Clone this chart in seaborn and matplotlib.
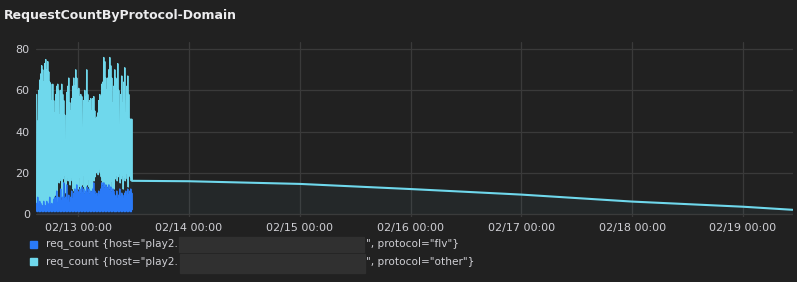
import numpy as np
import pandas as pd
import matplotlib
matplotlib.use("Agg")
import matplotlib.pyplot as plt
import matplotlib.dates as mdates
from matplotlib.patches import Rectangle
import seaborn as sns

# ---------------- data ----------------
# dense period: each pixel column holds a peak sample followed by a dip sample
dense_start = "2024-02-12 15:03"
dense_step = "390s"

flv_peak = [5, 8, 4, 6, 5, 4, 3, 6, 4, 3, 6, 5, 3, 8, 4, 5, 3, 7, 8,
            4, 11, 5, 8, 4, 12, 6, 8, 15, 7, 8, 14, 6, 9, 5, 8, 11, 7,
            10, 12, 9, 14, 11, 10, 12, 9, 13, 10, 12, 9, 11, 13, 10, 12, 9, 11, 10, 12, 15, 11, 9,
            10, 8, 11, 9, 12, 15, 13, 15, 12, 14, 13, 12, 14, 11, 13, 10, 12, 11,
            9, 8, 11, 7, 9, 12, 8, 10, 9, 7, 10, 11, 8, 12, 9, 11, 12, 10]
flv_dip = [1, 2, 1, 1, 2, 1, 1, 2, 1, 1, 2, 1, 1, 2, 1, 1, 2, 1, 1,
           2, 1, 1, 2, 1, 1, 2, 1, 1, 2, 1, 1, 2, 1, 1, 2, 1, 1,
           2, 1, 1, 2, 1, 1, 2, 1, 1, 2, 1, 1, 2, 1, 1, 2, 1, 1, 2, 1, 1, 2, 1,
           1, 2, 1, 1, 2, 1, 1, 2, 1, 1, 2, 1, 1, 2, 1, 1, 2, 1,
           1, 1, 2, 1, 1, 2, 1, 1, 2, 1, 1, 2, 1, 1, 2, 1, 1, 2]
other_peak = [53, 37, 56, 59, 63, 68, 67, 58, 69, 72, 64, 69, 66, 56, 59, 50, 60, 48, 41,
              54, 51, 58, 52, 44, 48, 57, 50, 40, 41, 23, 45, 56, 57, 49, 42, 45, 55,
              56, 50, 61, 52, 49, 51, 45, 49, 44, 26, 43, 51, 46, 57, 48, 42, 46, 45, 40, 44, 42, 39, 37,
              37, 41, 44, 49, 45, 48, 51, 61, 62, 52, 47, 54, 56, 65, 59, 56, 42, 51,
              61, 58, 54, 66, 51, 30, 50, 57, 45, 57, 61, 38, 54, 55, 49, 35, 34, 36]
other_dip = [3, 1, 4, 3, 1, 4, 3, 1, 5, 3, 1, 4, 3, 1, 7, 4, 2, 5, 8,
             12, 5, 16, 13, 17, 15, 6, 16, 18, 13, 9, 17, 14, 16, 13, 16, 15, 11,
             9, 12, 9, 13, 11, 17, 11, 9, 13, 17, 12, 9, 10, 13, 16, 11, 9, 11, 9, 15, 15, 16, 19,
             20, 17, 21, 19, 16, 15, 13, 14, 12, 14, 12, 12, 14, 10, 15, 10, 11, 11,
             16, 18, 14, 17, 19, 13, 16, 18, 10, 17, 15, 18, 16, 12, 17, 17, 15, 14]

# sparse tail of the "other" series
tail_times = ["2024-02-13 11:50", "2024-02-14 00:00", "2024-02-15 00:00",
              "2024-02-16 00:00", "2024-02-17 00:00", "2024-02-18 00:00",
              "2024-02-19 00:00", "2024-02-19 10:43"]
tail_other = [16.0, 15.8, 14.5, 12.0, 9.3, 5.9, 3.4, 1.9]

y_ticks = [0, 20, 40, 60, 80]
x_range = ["2024-02-12 14:54", "2024-02-19 10:43"]

title = "RequestCountByProtocol-Domain"
legend_prefix = 'req_count {host="play2.'
legend_suffix = ['", protocol="flv"}', '", protocol="other"}']

# ---------------- colours ----------------
BG = "#212121"
GRID = "#3a3a3a"
TXT = "#cfcfd4"
BLUE = "#2a7af8"
CYAN = "#6fd8ec"

# ---------------- assemble ----------------
flv = np.column_stack([flv_peak, flv_dip]).ravel().astype(float)
other = np.column_stack([other_peak, other_dip]).ravel().astype(float)
dense_t = pd.date_range(dense_start, periods=len(flv), freq=dense_step)
top = flv + other
tail_t = dense_t[-1:].append(pd.DatetimeIndex(pd.to_datetime(tail_times)))

dense_df = pd.DataFrame({"time": dense_t, "flv": flv, "top": top})
tail_df = pd.DataFrame({"time": tail_t,
                        "top": [top[-1]] + list(tail_other)})

sns.set_theme(style="dark")
plt.rcParams["font.family"] = ["DejaVu Sans"]

W, H = 797, 282
fig = plt.figure(figsize=(W / 100, H / 100), dpi=100, facecolor=BG)
ax = fig.add_axes([36 / W, 1 - 216.5 / H, (792.5 - 36) / W, (216.5 - 41.7) / H])
ax.set_facecolor(BG)

# lines
sns.lineplot(data=dense_df, x="time", y="top", ax=ax, color=CYAN, linewidth=1.0, zorder=3)
sns.lineplot(data=tail_df, x="time", y="top", ax=ax, color=CYAN, linewidth=1.5, zorder=3)
sns.lineplot(data=dense_df, x="time", y="flv", ax=ax, color=BLUE, linewidth=1.0, zorder=4)

# fills
ax.fill_between(dense_df["time"].to_numpy(), 0, dense_df["flv"].to_numpy(),
                color=BLUE, alpha=0.10, lw=0, zorder=1)
ax.fill_between(dense_df["time"].to_numpy(), dense_df["flv"].to_numpy(), dense_df["top"].to_numpy(),
                color=CYAN, alpha=0.06, lw=0, zorder=1)
ax.fill_between(tail_df["time"].to_numpy(), 0, tail_df["top"].to_numpy(),
                color=CYAN, alpha=0.045, lw=0, zorder=1)

ax.set_xlim(pd.Timestamp(x_range[0]), pd.Timestamp(x_range[1]))
ax.set_ylim(-1.36, 83.7)
ax.set_yticks(y_ticks)
ax.xaxis.set_major_locator(mdates.DayLocator())
ax.xaxis.set_major_formatter(mdates.DateFormatter("%m/%d %H:%M"))
ax.set_xlabel("")
ax.set_ylabel("")
ax.grid(True, color=GRID, linewidth=0.9)
ax.set_axisbelow(True)
for s in ax.spines.values():
    s.set_visible(False)
ax.tick_params(axis="both", length=0, colors=TXT, labelsize=8)
ax.tick_params(axis="y", pad=4.5)
ax.tick_params(axis="x", pad=5)
if ax.get_legend():
    ax.get_legend().remove()

# title
fig.text(4 / W, 1 - 15.5 / H, title, color="#ececee", fontsize=9.0,
         fontweight="bold", ha="left", va="center")

# legend (manual)
rows = [244.0, 261.7]
colors = [BLUE, CYAN]
boxes = [(179, 236.7, 364, 252.3), (180, 254.3, 365, 273.3)]
for yc, col, suf, (bx0, by0, bx1, by1) in zip(rows, colors, legend_suffix, boxes):
    fig.patches.append(Rectangle((30 / W, 1 - (yc + 3.5) / H), 7 / W, 7 / H,
                                 transform=fig.transFigure, color=col, zorder=2))
    fig.text(46 / W, 1 - yc / H, legend_prefix, color=TXT, fontsize=7.6,
             ha="left", va="center")
    fig.patches.append(Rectangle((bx0 / W, 1 - by1 / H), (bx1 - bx0) / W, (by1 - by0) / H,
                                 transform=fig.transFigure, color="#303030", zorder=3))
    fig.text(366 / W, 1 - yc / H, suf, color=TXT, fontsize=7.6,
             ha="left", va="center")

fig.savefig("out.png", dpi=100, facecolor=BG)
